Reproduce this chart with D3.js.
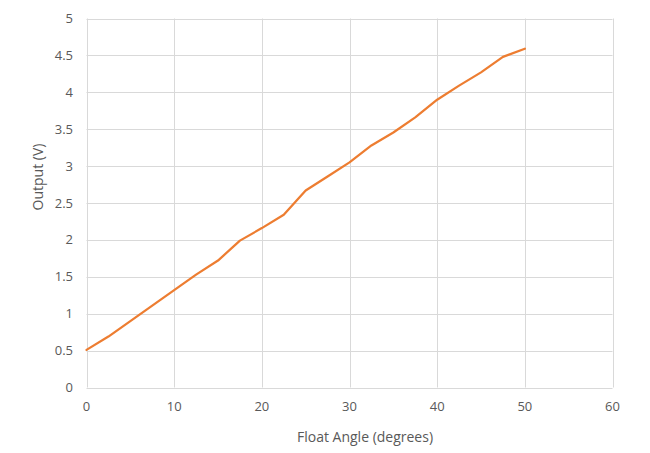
<!DOCTYPE html>
<html>
<head>
<meta charset="utf-8">
<script src="https://cdn.jsdelivr.net/npm/d3@7"></script>
<style>
html,body{margin:0;padding:0;background:#fff;}
svg{display:block;}
text{font-family:"Open Sans",sans-serif;fill:#595959;}
</style>
</head>
<body>
<svg id="chart" width="650" height="453"></svg>
<script>
const angles = [0,2.5,5,7.5,10,12.5,15,17.5,20,22.5,25,27.5,30,32.5,35,37.5,40,42.5,45,47.5,50];
const outputs = [0.51,0.69,0.90,1.11,1.32,1.53,1.72,1.99,2.16,2.34,2.67,2.86,3.05,3.28,3.455,3.66,3.90,4.09,4.27,4.48,4.59];
const xTicks = [0,10,20,30,40,50,60];
const yTicks = [0,0.5,1,1.5,2,2.5,3,3.5,4,4.5,5];
const xTitle = "Float Angle (degrees)";
const yTitle = "Output (V)";

const svg = d3.select("#chart");
const x = d3.scaleLinear().domain([0,60]).range([86.5,612.5]);
const y = d3.scaleLinear().domain([0,5]).range([387.5,18.5]);

// gridlines
svg.append("g").selectAll("line").data(yTicks).join("line")
  .attr("x1",x(0)).attr("x2",x(60))
  .attr("y1",d=>Math.round(y(d))+0.5).attr("y2",d=>Math.round(y(d))+0.5)
  .attr("stroke","#d9d9d9").attr("stroke-width",1);
svg.append("g").selectAll("line").data(xTicks).join("line")
  .attr("y1",y(0)).attr("y2",y(5))
  .attr("x1",d=>Math.round(x(d))+0.5).attr("x2",d=>Math.round(x(d))+0.5)
  .attr("stroke","#d9d9d9").attr("stroke-width",1);

// tick labels
svg.append("g").selectAll("text").data(yTicks).join("text")
  .attr("x",73).attr("y",d=>y(d)+4.5)
  .attr("text-anchor","end").attr("font-size","13px")
  .text(d=>d3.format("")(d));
svg.append("g").selectAll("text").data(xTicks).join("text")
  .attr("x",d=>x(d)).attr("y",411)
  .attr("text-anchor","middle").attr("font-size","13px")
  .text(d=>d);

// line
const line = d3.line().x((d,i)=>x(angles[i])).y(d=>y(d));
svg.append("path").datum(outputs)
  .attr("d",line).attr("fill","none")
  .attr("stroke","#ed7d31").attr("stroke-width",2.25)
  .attr("stroke-linejoin","round").attr("stroke-linecap","round");

// titles
svg.append("text").attr("x",365).attr("y",442)
  .attr("text-anchor","middle").attr("font-size","14px").text(xTitle);
svg.append("text").attr("transform","translate(43,177) rotate(-90)")
  .attr("text-anchor","middle").attr("font-size","14px").text(yTitle);
</script>
</body>
</html>
